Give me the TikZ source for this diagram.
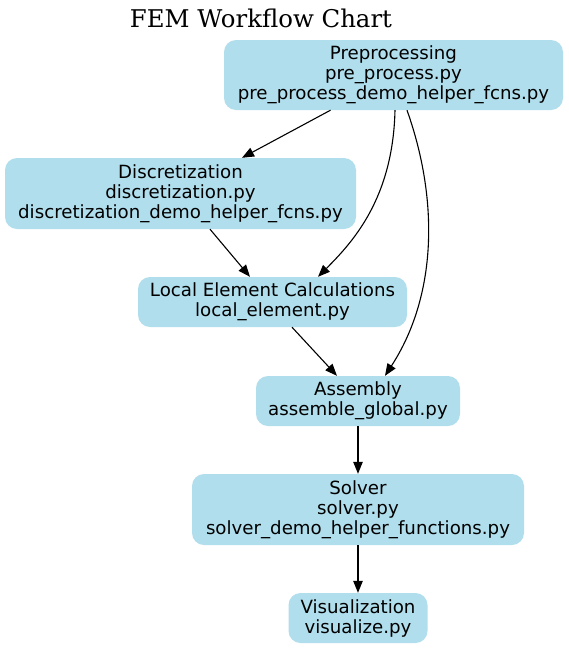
\documentclass[tikz,border=0pt]{standalone}
\usepackage{fontspec}
\setmainfont{DejaVu Sans}
\newfontfamily\titlefont{DejaVu Serif}
\usetikzlibrary{arrows.meta}
\definecolor{nodeblue}{HTML}{B0DEEC}
\tikzset{
  box/.style={draw=none, fill=nodeblue, rounded corners=12pt, align=center, inner sep=0pt,
    font=\fontsize{18.2}{20}\selectfont},
  conn/.style={draw=black, line width=1.1pt, -{Triangle[length=12pt,width=9.5pt]}}
}
\begin{document}
\begin{tikzpicture}[x=1pt,y=-1pt]
\useasboundingbox (0,0) rectangle (569,649);
\node (title) at (261,18) {\titlefont\fontsize{24.4}{28}\selectfont FEM Workflow Chart};
\node[box, minimum width=339pt, minimum height=70pt] (pre) at (393.5,75) {Preprocessing\\pre\_process.py\\pre\_process\_demo\_helper\_fcns.py};
\node[box, minimum width=351pt, minimum height=71pt] (disc) at (180.5,193.5) {Discretization\\discretization.py\\discretization\_demo\_helper\_fcns.py};
\node[box, minimum width=269pt, minimum height=50pt] (local) at (272.5,302) {Local Element Calculations\\local\_element.py};
\node[box, minimum width=204pt, minimum height=50pt] (asm) at (358,401) {Assembly\\assemble\_global.py};
\node[box, minimum width=332pt, minimum height=71pt] (solver) at (358,509.5) {Solver\\solver.py\\solver\_demo\_helper\_functions.py};
\node[box, minimum width=139pt, minimum height=50pt] (vis) at (358,618) {Visualization\\visualize.py};
\draw[conn] ([xshift=-63pt]pre.south) -- ([xshift=61.5pt]disc.north);
\draw[conn] ([xshift=1.5pt]pre.south) .. controls +(-2,88) and +(35,-35) .. ([xshift=45.5pt]local.north);
\draw[conn] ([xshift=13.5pt]pre.south) .. controls +(32,90) and +(52,-80) .. ([xshift=27pt]asm.north);
\draw[conn] ([xshift=29.5pt]disc.south) -- ([xshift=-22.5pt]local.north);
\draw[conn] ([xshift=19.5pt]local.south) -- ([xshift=-21pt]asm.north);
\draw[conn] (asm.south) -- (solver.north);
\draw[conn] (solver.south) -- (vis.north);
\end{tikzpicture}
\end{document}
